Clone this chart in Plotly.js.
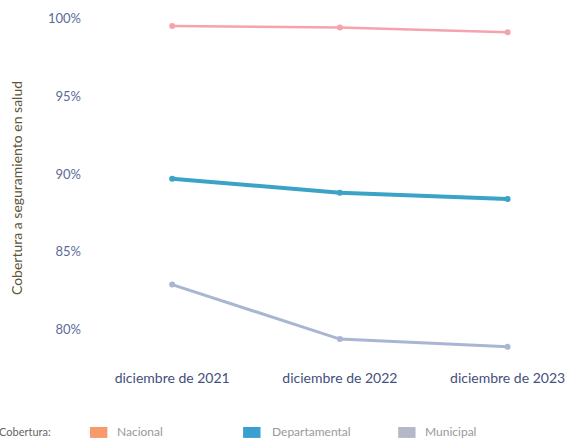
<!DOCTYPE html>
<html><head><meta charset="utf-8">
<script src="https://cdn.plot.ly/plotly-3.0.1.min.js"></script>
<style>html,body{margin:0;padding:0;background:#fff}#c{width:573px;height:446px}</style>
</head><body><div id="c"></div>
<script>
const categories = ["diciembre de 2021", "diciembre de 2022", "diciembre de 2023"];
const nacional = [99.5, 99.4, 99.1];
const departamental = [89.7, 88.8, 88.4];
const municipal = [82.9, 79.4, 78.9];
const seriesNames = ["Nacional", "Departamental", "Municipal"];
const lineColors = ["#f6a3ad", "#3aa3c6", "#aab5d3"];
const legendColors = ["#f99a6c", "#3a9fd0", "#b3b9c6"];
const yTicks = [80, 85, 90, 95, 100];
const yTickText = ["80%", "85%", "90%", "95%", "100%"];
const legendTitle = "Cobertura:";
const yTitle = "Cobertura a seguramiento en salud";

const series = [nacional, departamental, municipal];
const widths = [2.5, 4, 3];
const traces = series.map((s, i) => ({
  type: "scatter", mode: "lines+markers", x: categories, y: s,
  name: seriesNames[i], showlegend: false,
  line: {color: lineColors[i], width: widths[i]},
  marker: {color: lineColors[i], size: 6}
}));

const legSq = [0.0, 0.317, 0.638];
const legTx = [0.052, 0.373, 0.689];
const shapes = [];
const annotations = [{xref:"paper", yref:"paper", x:-0.192, y:-0.193, xanchor:"left", yanchor:"middle", text:legendTitle, showarrow:false, font:{family:"Lato, sans-serif", size:11, color:"#666"}}];
seriesNames.forEach((n, i) => {
  shapes.push({type:"rect", xref:"paper", yref:"paper", x0:legSq[i], x1:legSq[i]+0.036, y0:-0.21, y1:-0.179, fillcolor:legendColors[i], line:{width:0}});
  annotations.push({xref:"paper", yref:"paper", x:legTx[i], y:-0.193, xanchor:"left", yanchor:"middle", text:n, showarrow:false, font:{family:"Lato, sans-serif", size:12, color:"#999"}});
});

const layout = {
  width: 573, height: 446,
  margin: {l: 90, r: 0, t: 12, b: 82},
  paper_bgcolor: "#fff", plot_bgcolor: "#fff",
  font: {family: "Lato, sans-serif"},
  showlegend: false,
  xaxis: {type: "category", range: [-0.49, 2.39], showgrid: false, zeroline: false, showline: false, ticks: "",
    ticklabelstandoff: 4, tickfont: {size: 14, color: "#44507c"}},
  yaxis: {range: [77.8, 100.4], tickvals: yTicks, ticktext: yTickText, showgrid: false, zeroline: false, showline: false,
    ticks: "", ticklabelstandoff: 8, tickfont: {size: 13, color: "#5b6a9c"},
    title: {text: yTitle, font: {size: 14, color: "#5e5436"}, standoff: 22}},
  shapes: shapes, annotations: annotations
};
Plotly.newPlot("c", traces, layout, {displayModeBar: false, staticPlot: true});
</script></body></html>
